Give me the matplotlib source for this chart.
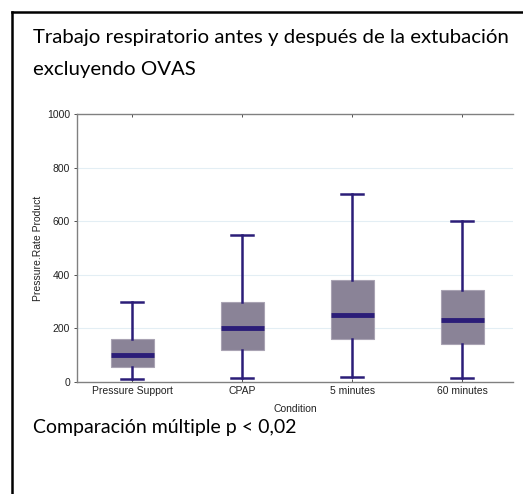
import matplotlib
matplotlib.use("Agg")
import matplotlib.pyplot as plt
from matplotlib.lines import Line2D

conditions = ["Pressure Support", "CPAP", "5 minutes", "60 minutes"]
whisker_low = [10, 15, 20, 15]
q1 = [55, 120, 160, 140]
medians = [100, 200, 250, 230]
q3 = [160, 300, 380, 345]
whisker_high = [300, 550, 700, 600]

title_lines = ["Trabajo respiratorio antes y después de la extubación", "excluyendo OVAS"]
footnote = "Comparación múltiple p < 0,02"

line_col = "#2b1d78"
box_col = "#8a8397"

fig = plt.figure(figsize=(5.23, 4.94), dpi=100)

# outer frame (slide border, cropped on right and bottom)
fig.add_artist(Line2D([11.5 / 523, 11.5 / 523], [0, 1 - 12 / 494], color="black", lw=1.8))
fig.add_artist(Line2D([11.5 / 523, 1], [1 - 12 / 494, 1 - 12 / 494], color="black", lw=1.8))

fig.text(33 / 523, 1 - 37 / 494, title_lines[0], fontsize=14.7, family="Lato", va="center")
fig.text(33 / 523, 1 - 70 / 494, title_lines[1], fontsize=14.7, family="Lato", va="center")
fig.text(33 / 523, 1 - 428 / 494, footnote, fontsize=14.0, family="Lato", va="center")

ax = fig.add_axes([77 / 523, 1 - 382 / 494, (513 - 77) / 523, (382 - 114) / 494])

stats = []
for i, name in enumerate(conditions):
    stats.append({"label": name, "whislo": whisker_low[i], "q1": q1[i], "med": medians[i],
                  "q3": q3[i], "whishi": whisker_high[i], "fliers": []})

ax.bxp(stats, positions=range(len(conditions)), widths=0.39, patch_artist=True,
       showfliers=False,
       boxprops=dict(facecolor=box_col, edgecolor="#a9a3b3", lw=0.8),
       medianprops=dict(color=line_col, lw=3.5, solid_capstyle="butt"),
       whiskerprops=dict(color=line_col, lw=1.8),
       capprops=dict(color=line_col, lw=1.8),
       capwidths=0.2)

ax.set_xlim(-0.5, 3.46)
ax.set_ylim(0, 1000)
ax.set_yticks([0, 200, 400, 600, 800, 1000])
for y in [200, 400, 600, 800]:
    ax.axhline(y, color="#e3eef4", lw=0.8, zorder=0)

for side in ["left", "top", "bottom"]:
    ax.spines[side].set_color("#808080")
    ax.spines[side].set_linewidth(1.0)
ax.spines["right"].set_visible(False)

ax.tick_params(axis="both", labelsize=7.5, colors="#333333", length=2, width=0.6)
ax.tick_params(axis="x", top=True, direction="in", length=2, pad=3)
ax.tick_params(axis="y", direction="out", pad=3)
for lab in ax.get_xticklabels() + ax.get_yticklabels():
    lab.set_family("Liberation Sans")
    lab.set_color("#222222")

ax.set_xlabel("Condition", fontsize=7.5, family="Liberation Sans", labelpad=6, color="#222222")
ax.set_ylabel("Pressure.Rate Product", fontsize=7.5, family="Liberation Sans", labelpad=3, color="#222222")

fig.savefig("out.png", dpi=100)
